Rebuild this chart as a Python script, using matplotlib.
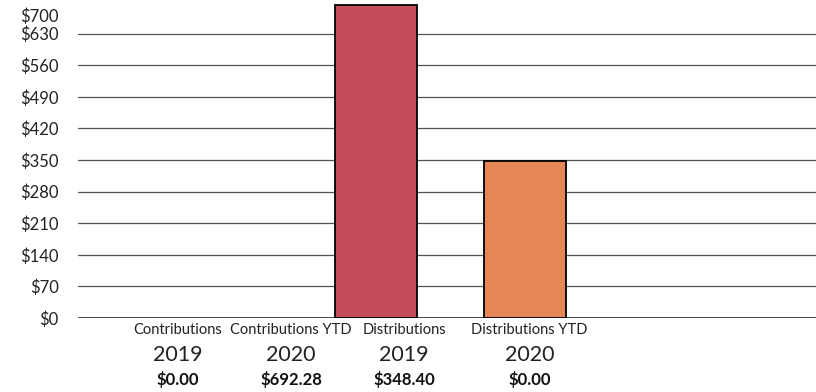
import matplotlib
matplotlib.use("Agg")
import matplotlib.pyplot as plt
from matplotlib.ticker import FuncFormatter
import matplotlib.transforms as mtransforms

categories = ["Contributions", "Contributions YTD", "Distributions", "Distributions YTD"]
years = ["2019", "2020", "2019", "2020"]
values = [0.00, 692.28, 348.40, 0.00]
value_labels = ["$0.00", "$692.28", "$348.40", "$0.00"]
yticks = [0, 70, 140, 210, 280, 350, 420, 490, 560, 630, 700]

colors = ["#C44D5C", "#C44D5C", "#E58755", "#E58755"]
label_x = [-0.33, 0.43, 1.19, 2.03]
bar_x = [0, 1, 2, 3]

plt.rcParams['font.family'] = ['Lato', 'DejaVu Sans']

fig = plt.figure(figsize=(8.16, 3.92), dpi=100)
ax = fig.add_axes([78/816, 74/392, 738/816, 316/392])

for i, v in enumerate(values):
    if v > 0:
        ax.bar(bar_x[i], v, width=0.557, color=colors[i], edgecolor="black", linewidth=1.3, zorder=3)

ax.set_xlim(-1.0, 3.953)
ax.set_ylim(0, 700)
ax.set_yticks(yticks)
ax.yaxis.set_major_formatter(FuncFormatter(lambda v, p: f"${int(v)}"))
ax.tick_params(axis='y', length=0, pad=14, labelsize=12, colors="#222222")
ax.tick_params(axis='x', length=0, labelbottom=False)
for t in yticks[1:-1]:
    ax.axhline(t, color="#555555", linewidth=0.9, zorder=1)
ax.axhline(0, color="#111111", linewidth=1.8, zorder=4)
for s in ax.spines.values():
    s.set_visible(False)

fig.canvas.draw()
labels = ax.get_yticklabels()
offset = mtransforms.ScaledTranslation(0, -13/100, fig.dpi_scale_trans)
labels[-1].set_transform(labels[-1].get_transform() + offset)

trans = mtransforms.blended_transform_factory(ax.transData, fig.transFigure)
for i in range(len(categories)):
    ax.text(label_x[i], 1 - 330/392, categories[i], transform=trans, ha='center', va='center',
            fontsize=10.5, color="#222222")
    ax.text(label_x[i], 1 - 355/392, years[i], transform=trans, ha='center', va='center',
            fontsize=15.5, color="#222222")
    ax.text(label_x[i], 1 - 379/392, value_labels[i], transform=trans, ha='center', va='center',
            fontsize=12, fontweight='bold', color="#111111")

fig.savefig("out.png", dpi=100)
